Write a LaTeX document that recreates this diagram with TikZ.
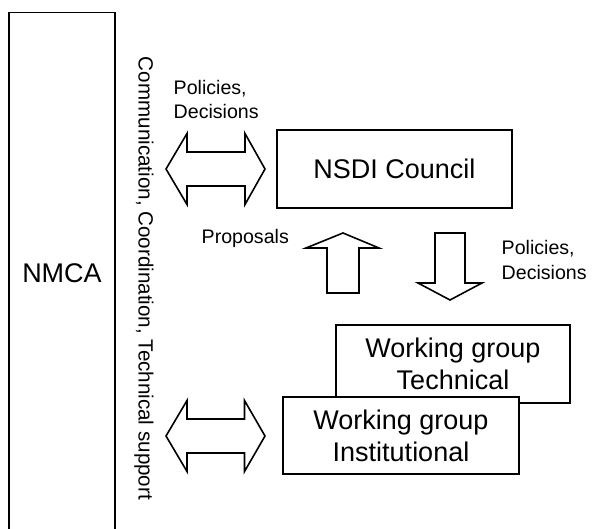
\documentclass[tikz,border=0pt]{standalone}
\usepackage{fontspec}
\setmainfont{Liberation Sans}
\begin{document}
\begin{tikzpicture}[x=1pt,y=-1pt,
  box/.style={draw=black, line width=1.6pt, fill=white, inner sep=0pt, align=center,
    font=\fontsize{27}{32}\selectfont},
  lbl/.style={inner sep=0pt, align=left, font=\fontsize{19.6}{24.5}\selectfont},
  blockarrow/.style={draw=black, line width=1.6pt, fill=white, line join=miter}]
\clip (0,0) rectangle (592,529);
\fill[white] (0,0) rectangle (592,529);
% boxes
\node[box, minimum width=106pt, minimum height=521.6pt] (nmca) at (62,273.5) {NMCA};
\node[box, minimum width=235pt, minimum height=78pt] (council) at (394.5,169) {NSDI Council};
\node[box, minimum width=234pt, minimum height=78pt] (tech) at (453,364) {Working group\\Technical};
\node[box, minimum width=236pt, minimum height=77pt] (inst) at (401,435.5) {Working group\\Institutional};
% labels
\node[lbl, rotate=-90, anchor=base, font=\fontsize{20.6}{24}\selectfont] (comm) at (138.5,278.5)
  {Communication, Coordination, Technical support};
\node[lbl, anchor=west] (pd1) at (173.5,99.6) {Policies,\\Decisions};
\node[lbl, anchor=base west] (prop) at (201.5,244) {Proposals};
\node[lbl, anchor=west] (pd2) at (501.5,260.1) {Policies,\\Decisions};
% double arrows
\draw[blockarrow, shift={(0,169)}] (166,0) -- (187,-35.5) -- (187,-17) -- (245,-17) -- (245,-35.5)
  -- (265,0) -- (245,35.5) -- (245,17) -- (187,17) -- (187,35.5) -- cycle;
\draw[blockarrow, shift={(0,436)}] (166,0) -- (187,-35.5) -- (187,-17) -- (244.5,-17) -- (244.5,-35.5)
  -- (265,0) -- (244.5,35.5) -- (244.5,17) -- (187,17) -- (187,35.5) -- cycle;
% up arrow (proposals)
\draw[blockarrow] (343,233) -- (379,248) -- (359,248) -- (359,293) -- (327,293) -- (327,248)
  -- (306,248) -- cycle;
% down arrow (policies)
\draw[blockarrow] (450,300) -- (482,283) -- (465,283) -- (465,233) -- (435,233) -- (435,283)
  -- (418,283) -- cycle;
\end{tikzpicture}
\end{document}
